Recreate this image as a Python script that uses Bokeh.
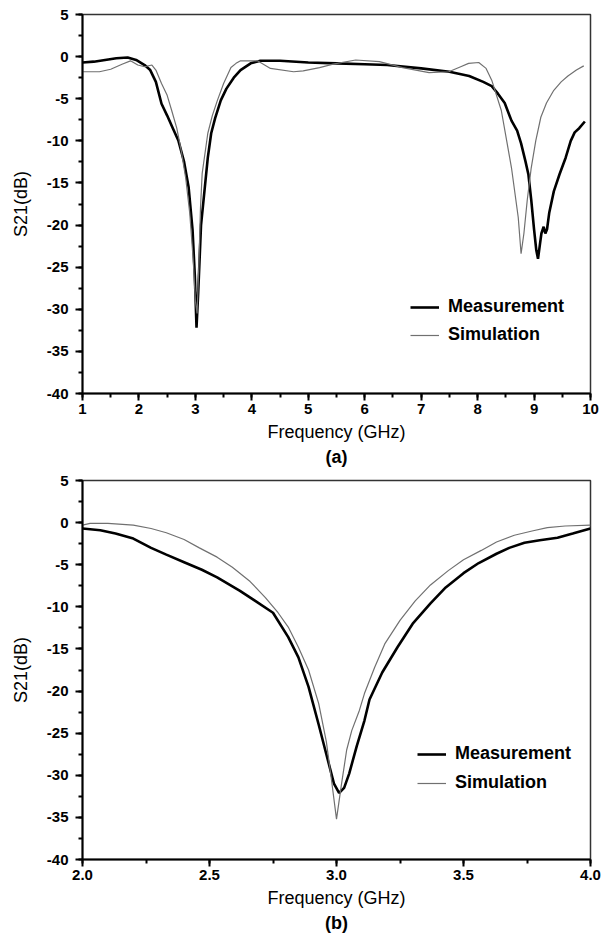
from bokeh.plotting import figure
from bokeh.layouts import column
from bokeh.models import SingleIntervalTicker, PrintfTickFormatter, Range1d, Legend, LegendItem, Title
from bokeh.embed import file_html
from bokeh.resources import INLINE

# ---- Panel (a): wide band ----
meas_a_f = [1.0, 1.2, 1.4, 1.6, 1.8, 1.95, 2.1, 2.2, 2.3, 2.4, 2.5, 2.6, 2.7, 2.8, 2.88, 2.95, 2.99, 3.02,
            3.05, 3.1, 3.16, 3.22, 3.28, 3.35, 3.45, 3.55, 3.68, 3.8, 3.98, 4.15, 4.5, 5.0, 5.5, 6.0, 6.4,
            7.0, 7.5, 7.85, 8.1, 8.25, 8.36, 8.48, 8.6, 8.7, 8.77, 8.85, 8.9, 8.95, 9.0, 9.04, 9.07, 9.1,
            9.13, 9.17, 9.2, 9.23, 9.27, 9.35, 9.45, 9.56, 9.65, 9.72, 9.8, 9.9]
meas_a_db = [-0.7, -0.6, -0.4, -0.2, -0.1, -0.4, -1.0, -1.6, -3.0, -5.6, -7.0, -8.5, -10.0, -12.5, -15.5,
             -20.6, -26.0, -32.2, -28.0, -20.0, -16.0, -12.0, -9.1, -7.3, -5.2, -3.8, -2.5, -1.6, -0.8,
             -0.5, -0.5, -0.7, -0.8, -0.9, -1.0, -1.4, -1.8, -2.3, -3.0, -3.5, -4.4, -5.5, -7.6, -8.8,
             -10.3, -12.5, -14.0, -17.0, -20.5, -23.0, -24.0, -22.5, -21.0, -20.2, -21.0, -20.5, -18.5,
             -16.0, -14.0, -12.0, -10.0, -9.0, -8.5, -7.7]
sim_a_f = [1.0, 1.3, 1.5, 1.7, 1.85, 1.98, 2.1, 2.23, 2.3, 2.4, 2.5, 2.58, 2.67, 2.75, 2.83, 2.9, 2.96,
           3.0, 3.03, 3.06, 3.09, 3.12, 3.22, 3.3, 3.39, 3.5, 3.63, 3.72, 3.8, 4.1, 4.33, 4.74, 4.91, 5.2,
           5.44, 5.84, 6.26, 6.67, 7.14, 7.49, 7.7, 7.84, 8.02, 8.15, 8.25, 8.42, 8.6, 8.72, 8.77, 8.82,
           8.88, 8.95, 9.03, 9.12, 9.22, 9.35, 9.48, 9.6, 9.75, 9.88]
sim_a_db = [-1.8, -1.8, -1.5, -0.9, -0.5, -1.0, -1.2, -1.0, -1.6, -3.2, -4.6, -6.4, -8.5, -11.2, -14.5,
            -18.6, -24.0, -29.0, -30.5, -25.0, -18.0, -13.9, -9.1, -7.0, -5.2, -3.2, -1.3, -0.8, -0.5,
            -0.5, -1.4, -1.8, -1.7, -1.3, -0.9, -0.4, -0.6, -1.3, -1.9, -1.8, -1.2, -0.8, -0.7, -1.4,
            -2.8, -6.4, -13.2, -19.1, -23.4, -21.0, -17.0, -13.2, -10.0, -7.2, -5.5, -4.0, -3.0, -2.3,
            -1.6, -1.1]

# ---- Panel (b): zoom around 3 GHz ----
meas_b_f = [2.0, 2.07, 2.13, 2.2, 2.27, 2.33, 2.4, 2.47, 2.53, 2.62, 2.68, 2.75, 2.81, 2.85, 2.89, 2.93,
            2.96, 2.99, 3.01, 3.03, 3.05, 3.08, 3.11, 3.13, 3.18, 3.24, 3.3, 3.37, 3.43, 3.5, 3.56, 3.63,
            3.68, 3.74, 3.8, 3.87, 3.93, 4.0]
meas_b_db = [-0.7, -0.9, -1.3, -1.9, -3.0, -3.8, -4.7, -5.6, -6.5, -8.1, -9.3, -10.7, -13.6, -16.0, -19.5,
             -24.0, -27.5, -31.0, -32.1, -31.5, -29.8, -26.5, -23.5, -21.0, -17.8, -14.8, -12.0, -9.6,
             -7.7, -6.0, -4.8, -3.7, -3.0, -2.4, -2.1, -1.8, -1.3, -0.7]
sim_b_f = [2.0, 2.03, 2.1, 2.2, 2.27, 2.33, 2.4, 2.46, 2.53, 2.59, 2.66, 2.72, 2.77, 2.81, 2.85, 2.89,
           2.93, 2.96, 2.98, 3.0, 3.02, 3.04, 3.06, 3.09, 3.11, 3.15, 3.19, 3.25, 3.31, 3.37, 3.44, 3.5,
           3.57, 3.63, 3.7, 3.77, 3.83, 3.9, 4.0]
sim_b_db = [-0.3, -0.1, -0.1, -0.3, -0.7, -1.2, -2.0, -3.0, -4.1, -5.3, -7.0, -8.9, -10.7, -12.4, -14.8,
            -17.5, -21.5, -26.0, -30.5, -35.2, -31.0, -27.0, -24.7, -22.3, -20.3, -17.2, -14.4, -11.6,
            -9.3, -7.4, -5.7, -4.4, -3.3, -2.3, -1.5, -1.0, -0.6, -0.4, -0.3]

y_ticks_interval = 5
series_names = ["Measurement", "Simulation"]
panel_labels = ["(a)", "(b)"]

FONT = "Liberation Sans"


def make_panel(mf, md, sf, sd, x0, x1, xint, fmt, label, width, height, bl, br, bt, bb, leg_loc, leg_spacing):
    p = figure(width=width, height=height, output_backend="svg", toolbar_location=None,
               x_range=Range1d(x0, x1), y_range=Range1d(-40, 5),
               min_border_left=bl, min_border_right=br, min_border_top=bt, min_border_bottom=bb)
    p.grid.visible = False
    p.outline_line_color = "#333333"
    p.outline_line_width = 1.5
    p.background_fill_color = "white"
    p.border_fill_color = "white"

    r1 = p.line(mf, md, line_color="black", line_width=2.6)
    r2 = p.line(sf, sd, line_color="#707070", line_width=1.2)

    p.xaxis.ticker = SingleIntervalTicker(interval=xint, num_minor_ticks=2)
    p.yaxis.ticker = SingleIntervalTicker(interval=y_ticks_interval, num_minor_ticks=2)
    p.xaxis.formatter = PrintfTickFormatter(format=fmt)
    p.yaxis.formatter = PrintfTickFormatter(format="%d")
    for ax in (p.xaxis[0], p.yaxis[0]):
        ax.axis_line_width = 2
        ax.axis_line_color = "black"
        ax.major_tick_line_width = 2
        ax.minor_tick_line_width = 2
        ax.major_tick_out = 7
        ax.major_tick_in = 0
        ax.minor_tick_out = 4
        ax.minor_tick_in = 0
        ax.major_label_text_font = FONT
        ax.major_label_text_font_style = "bold"
        ax.major_label_text_font_size = "15px"
        ax.major_label_text_color = "black"
        ax.axis_label_text_font = FONT
        ax.axis_label_text_font_style = "normal"
        ax.axis_label_text_font_size = "18px"
        ax.axis_label_text_color = "black"
    p.xaxis.axis_label = "Frequency (GHz)"
    p.yaxis.axis_label = "S21(dB)"
    p.xaxis.major_label_standoff = 3
    p.xaxis.axis_label_standoff = 5
    p.yaxis.major_label_standoff = 7
    p.yaxis.axis_label_standoff = 13

    t = Title(text=label, align="center", text_font=FONT, text_font_style="bold",
              text_font_size="18px", text_color="black", standoff=0, offset=-8)
    p.add_layout(t, "below")

    legend = Legend(items=[LegendItem(label=series_names[0], renderers=[r1]),
                           LegendItem(label=series_names[1], renderers=[r2])],
                    location=leg_loc, orientation="vertical",
                    glyph_width=29, glyph_height=20, label_height=20, label_standoff=9,
                    spacing=leg_spacing, padding=0, margin=0,
                    border_line_alpha=0, background_fill_alpha=0,
                    label_text_font=FONT, label_text_font_style="bold",
                    label_text_font_size="18px", label_text_color="black")
    p.add_layout(legend)
    return p


pa = make_panel(meas_a_f, meas_a_db, sim_a_f, sim_a_db, 1, 10, 1, "%d", panel_labels[0],
                601, 470, 77, 11, 14, 77, (328, 48), 7)
pb = make_panel(meas_b_f, meas_b_db, sim_b_f, sim_b_db, 2, 4, 0.5, "%.1f", panel_labels[1],
                601, 463, 82, 7, 10, 74, (335, 66), 8)

layout = column(pa, pb, spacing=0)
open("out.html", "w").write(file_html(layout, INLINE))
